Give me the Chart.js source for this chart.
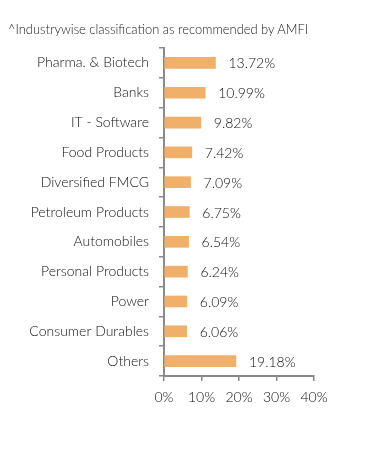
<!DOCTYPE html>
<html>
<head>
<meta charset="utf-8">
<script src="https://cdn.jsdelivr.net/npm/chart.js@4/dist/chart.umd.min.js"></script>
<style>
	body{ margin:0; background:#fff; }
	#wrap{ position:relative; width:391px; height:450px; }
	#note{ position:absolute; left:8px; top:21px; font:300 12.9px Lato, sans-serif; color:#222; white-space:nowrap; }
</style>
</head>
<body>
<div id="wrap">
	<div id="note">^Industrywise classification as recommended by AMFI</div>
	<canvas id="chart" width="391" height="450"></canvas>
</div>
<script>
//Settori e pesi (%).
const sectors = ["Pharma. & Biotech", "Banks", "IT - Software", "Food Products", "Diversified FMCG",
	"Petroleum Products", "Automobiles", "Personal Products", "Power", "Consumer Durables", "Others"];
const weights = [13.72, 10.99, 9.82, 7.42, 7.09, 6.75, 6.54, 6.24, 6.09, 6.06, 19.18];
const xTicks = [0, 10, 20, 30, 40];

const AXIS = "#8a8a8a";
const TEXT = "#111";

//Etichette a destra delle barre.
const valueLabels = {
	id: "valueLabels",
	afterDatasetsDraw(chart){
		const ctx = chart.ctx;
		ctx.save();
		ctx.font = "300 14px Lato, sans-serif";
		ctx.fillStyle = TEXT;
		ctx.textBaseline = "middle";
		chart.getDatasetMeta(0).data.forEach((bar, i) => {
			ctx.fillText(weights[i].toFixed(2) + "%", bar.x + 13, bar.y + 1);
		});
		ctx.restore();
	}
};

new Chart(document.getElementById("chart"), {
	type: "bar",
	data: {
		labels: sectors,
		datasets: [{ data: weights, backgroundColor: "#f0b069", barThickness: 11 }]
	},
	options: {
		indexAxis: "y",
		responsive: false,
		animation: false,
		layout: { padding: { top: 48, right: 77, bottom: 0, left: 0 } },
		plugins: { legend: { display: false }, tooltip: { enabled: false } },
		scales: {
			y: {
				grid: { drawOnChartArea: false, tickLength: 5, color: AXIS, lineWidth: 1.5 },
				border: { color: AXIS, width: 2 },
				ticks: { color: TEXT, font: { family: "Lato", size: 14, weight: 300 }, padding: 10 },
				afterFit: s => { s.width = 164; }
			},
			x: {
				min: 0, max: 40,
				afterBuildTicks: s => { s.ticks = xTicks.map(v => ({ value: v })); },
				grid: { drawOnChartArea: false, tickLength: 5, color: AXIS, lineWidth: 1.5 },
				border: { color: AXIS, width: 2 },
				ticks: { color: TEXT, font: { family: "Lato", size: 14, weight: 300 }, padding: 8, callback: v => v + "%" },
				afterFit: s => { s.height = 74; }
			}
		}
	},
	plugins: [valueLabels]
});
</script>
</body>
</html>
